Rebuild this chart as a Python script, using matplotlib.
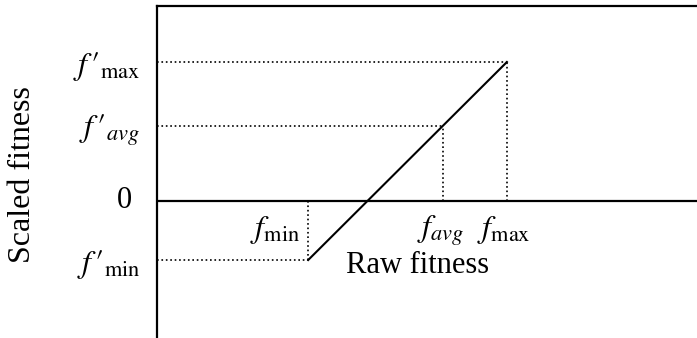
import matplotlib.pyplot as plt

plt.rcParams['font.family'] = 'Liberation Serif'
plt.rcParams['mathtext.fontset'] = 'stix'

# raw fitness values (min, avg, max) and their scaled values
raw = [2.8, 5.3, 6.48]
scaled = [-1.18, 1.5, 2.78]
raw_labels = [r'$f_{\mathrm{min}}$', r'$f_{avg}$', r'$f_{\mathrm{max}}$']
scaled_labels = [r"$f\,\prime_{\mathrm{min}}$", r"$f\,\prime_{avg}$", r"$f\,\prime_{\mathrm{max}}$"]

fig = plt.figure(figsize=(6.97, 3.38), dpi=100)
ax = fig.add_axes([157 / 697, 0, 1 - 157 / 697, 1 - 6 / 338])
ax.set_xlim(0, 10)
ax.set_ylim(-2.74, 3.9)

# scaling line
ax.plot([raw[0], raw[2]], [scaled[0], scaled[2]], color='black', lw=1.5)

# dotted guides
for x, y in zip(raw, scaled):
    ax.plot([0, x], [y, y], color='black', ls=':', lw=1.2)
    ax.plot([x, x], [0, y], color='black', ls=':', lw=1.2)

ax.axhline(0, color='black', lw=1.6)

for s in ['right', 'bottom']:
    ax.spines[s].set_visible(False)
for s in ['left', 'top']:
    ax.spines[s].set_linewidth(1.6)
ax.set_xticks([])
ax.set_yticks([])

# labels on the raw axis
ax.annotate(raw_labels[0], (raw[0], 0), xytext=(-6, -9), textcoords='offset points',
            ha='right', va='top', fontsize=23)
for x, lab in zip(raw[1:], raw_labels[1:]):
    ax.annotate(lab, (x, 0), xytext=(-2, -9), textcoords='offset points',
                ha='center', va='top', fontsize=23)

# labels on the scaled axis
for y, lab in zip(scaled, scaled_labels):
    ax.annotate(lab, (0, y), xytext=(-12, -3), textcoords='offset points',
                ha='right', va='center', fontsize=23, annotation_clip=False)
ax.annotate('0', (0, 0), xytext=(-18, 0), textcoords='offset points',
            ha='right', va='center', fontsize=22, annotation_clip=False)

ax.text((418 - 157) / 540, 1 - (273 - 6) / 332, 'Raw fitness',
        transform=ax.transAxes, ha='center', va='baseline', fontsize=22)
fig.text(23 / 697, 1 - 175 / 338, 'Scaled fitness', rotation=90,
         ha='center', va='center', fontsize=23)

fig.savefig('out.png', dpi=100)
